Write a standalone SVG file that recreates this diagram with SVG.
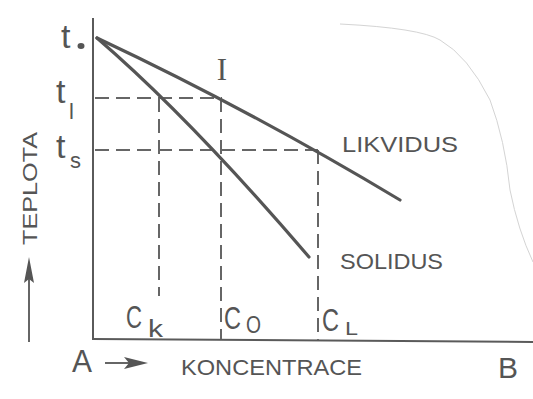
<svg xmlns="http://www.w3.org/2000/svg" width="533" height="399" viewBox="0 0 533 399">
<style>
.lbl{font-family:"Liberation Sans",Arial,sans-serif;fill:#555}
.ser{font-family:"Liberation Serif","Times New Roman",serif;fill:#555}
.axis{stroke:#5a5a5a;stroke-width:2;fill:none}
.curve{stroke:#555;stroke-width:3.2;fill:none;stroke-linecap:round}
.dash{stroke:#666;stroke-width:2;fill:none;stroke-dasharray:14 7}
</style>
<rect width="533" height="399" fill="#fff"/>
<path d="M340 24 Q420 28 440 40 Q468 56 490 100 Q505 140 510 190 Q518 230 533 262" stroke="#d4d4d4" stroke-width="1" fill="none"/>
<g id="connectors">
<line class="axis" x1="93" y1="18" x2="93" y2="340"/>
<line class="axis" x1="93" y1="339" x2="533" y2="342"/>
<path class="dash" d="M95 98 H222"/>
<path class="dash" d="M95 150 H318"/>
<path class="dash" d="M159 98 V296"/>
<path class="dash" d="M221 98 V339"/>
<path class="dash" d="M318 150 V340"/>
<path class="curve" d="M97 38 Q250 110 400 200"/>
<path class="curve" d="M97 38 Q190 118 309 257"/>
<line x1="29" y1="342" x2="29" y2="275" stroke="#666" stroke-width="2"/>
<path d="M29 257 L34 283 L29 279 L24 283 Z" fill="#555"/>
<line x1="105" y1="363" x2="130" y2="363" stroke="#666" stroke-width="2"/>
<path d="M148 363 L124 357 L129 363 L124 369 Z" fill="#555"/>
</g>
<g id="t0"><text class="lbl" x="61" y="48" font-size="34">t</text><ellipse cx="81" cy="46" rx="3.5" ry="3" fill="#555"/></g>
<g id="tl"><text class="lbl" x="56" y="103" font-size="34">t</text><text class="lbl" x="69" y="119" font-size="22">l</text></g>
<g id="ts"><text class="lbl" x="56" y="158" font-size="34">t</text><text class="lbl" x="70" y="168" font-size="22">s</text></g>
<g id="I"><text class="ser" x="222" y="80" font-size="31" text-anchor="middle">I</text></g>
<g id="likvidus"><text class="lbl" x="342" y="152" font-size="22" textLength="116" lengthAdjust="spacingAndGlyphs">LIKVIDUS</text></g>
<g id="solidus"><text class="lbl" x="340" y="269" font-size="22" textLength="103" lengthAdjust="spacingAndGlyphs">SOLIDUS</text></g>
<g id="teplota"><text class="lbl" transform="translate(37,188.5) rotate(-90)" font-size="21" text-anchor="middle" textLength="113" lengthAdjust="spacingAndGlyphs">TEPLOTA</text></g>
<g id="ck"><text class="lbl" x="126" y="328" font-size="31" textLength="16" lengthAdjust="spacingAndGlyphs">C</text><text class="lbl" x="148" y="337" font-size="23" textLength="15" lengthAdjust="spacingAndGlyphs">k</text></g>
<g id="co"><text class="lbl" x="224" y="329" font-size="31" textLength="17" lengthAdjust="spacingAndGlyphs">C</text><text class="lbl" x="246" y="333" font-size="24" textLength="15" lengthAdjust="spacingAndGlyphs">O</text></g>
<g id="cl"><text class="lbl" x="322" y="331" font-size="32" textLength="17" lengthAdjust="spacingAndGlyphs">C</text><text class="lbl" x="345" y="335" font-size="18" textLength="13" lengthAdjust="spacingAndGlyphs">L</text></g>
<g id="A"><text class="lbl" x="72" y="372" font-size="32" textLength="20" lengthAdjust="spacingAndGlyphs">A</text></g>
<g id="B"><text class="lbl" x="498" y="378" font-size="29" textLength="20" lengthAdjust="spacingAndGlyphs">B</text></g>
<g id="koncentrace"><text class="lbl" x="181" y="375" font-size="22" textLength="181" lengthAdjust="spacingAndGlyphs">KONCENTRACE</text></g>
</svg>
